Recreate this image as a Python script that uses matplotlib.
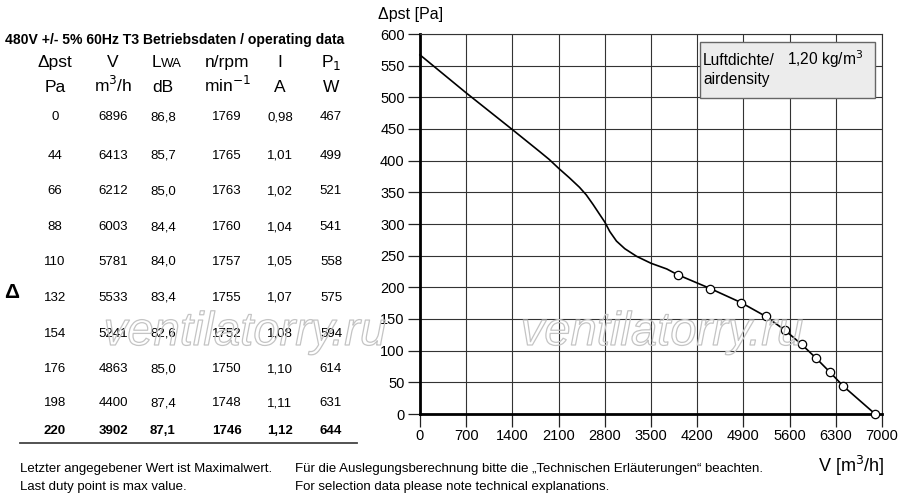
import matplotlib
matplotlib.use("Agg")
import matplotlib.pyplot as plt
import matplotlib.patheffects as pe
from matplotlib.patches import Rectangle
import numpy as np

plt.rcParams['font.family'] = ['Liberation Sans', 'DejaVu Sans']

# ---- data ----
dp = [0, 44, 66, 88, 110, 132, 154, 176, 198, 220]
flow = [6896, 6413, 6212, 6003, 5781, 5533, 5241, 4863, 4400, 3902]
lwa = ["86,8", "85,7", "85,0", "84,4", "84,0", "83,4", "82,6", "85,0", "87,4", "87,1"]
rpm = [1769, 1765, 1763, 1760, 1757, 1755, 1752, 1750, 1748, 1746]
amps = ["0,98", "1,01", "1,02", "1,04", "1,05", "1,07", "1,08", "1,10", "1,11", "1,12"]
power = [467, 499, 521, 541, 558, 575, 594, 614, 631, 644]

# curve section left of the duty points
curve_v = [0, 700, 1400, 1805, 1957, 2100, 2263, 2416, 2519, 2621, 2723, 2800,
           2876, 2977, 3103, 3281, 3500, 3739]
curve_p = [567, 507, 449, 415, 402, 388, 373, 358, 346, 331, 315, 303,
           288, 273, 261, 249, 238, 229]

xticks = [0, 700, 1400, 2100, 2800, 3500, 4200, 4900, 5600, 6300, 7000]
yticks = [0, 50, 100, 150, 200, 250, 300, 350, 400, 450, 500, 550, 600]

W, H = 900, 500
fig = plt.figure(figsize=(9, 5), dpi=100)

def fx(x):
    return x / W

def fy(y):
    return 1 - y / H

ax = fig.add_axes([fx(420), fy(414), fx(882) - fx(420), fy(34) - fy(414)])
ax.set_xlim(0, 7000)
ax.set_ylim(0, 600)
ax.set_xticks(xticks)
ax.set_yticks(yticks)
ax.tick_params(axis='both', direction='out', length=9, width=0.9, color='#222',
               labelsize=10.5, pad=2)
ax.grid(True, color='#333333', linewidth=0.8)
for s in ['top', 'right']:
    ax.spines[s].set_linewidth(0.8)
    ax.spines[s].set_color('#333333')
for s in ['left', 'bottom']:
    ax.spines[s].set_linewidth(2.0)
    ax.spines[s].set_color('black')

all_v = curve_v + flow[::-1]
all_p = curve_p + dp[::-1]
ax.plot(all_v, all_p, color='black', lw=1.2, zorder=3, clip_on=False,
        solid_joinstyle='round')
ax.plot(flow, dp, linestyle='none', marker='o', ms=6, mfc='white', mec='black',
        mew=0.9, zorder=4, clip_on=False)

# density box
fig.add_artist(Rectangle((fx(700), fy(98)), fx(875) - fx(700), fy(42) - fy(98),
                         transform=fig.transFigure, fc='#ececec', ec='#666666', lw=1.0,
                         zorder=5))
fig.text(fx(703), fy(65), "Luftdichte/", fontsize=11.2, ha='left', va='baseline', zorder=6)
fig.text(fx(787), fy(65), "1,20 kg/m$^3$", fontsize=11.2, ha='left', va='baseline', zorder=6)
fig.text(fx(703), fy(84), "airdensity", fontsize=11.2, ha='left', va='baseline', zorder=6)

fig.text(fx(378), fy(14), "Δpst [Pa]", fontsize=11.5, ha='left', va='center')
fig.text(fx(818), fy(466), "V [m$^3$/h]", fontsize=13, ha='left', va='center')

# ---- table ----
fig.text(fx(5), fy(40), "480V +/- 5% 60Hz T3 Betriebsdaten / operating data",
         fontsize=10.1, fontweight='bold', ha='left', va='center')
col_x = [55, 113, 163, 227, 280, 331]
head1 = ["Δpst", "V", None, "n/rpm", "I", "P$_1$"]
head2 = ["Pa", "m$^3$/h", "dB", "min$^{-1}$", "A", "W"]
for x, t in zip(col_x, head1):
    if t is not None:
        fig.text(fx(x), fy(67), t, fontsize=12.5, ha='center', va='baseline')
# L with small-caps WA
fig.text(fx(161), fy(67), "L", fontsize=12.5, ha='right', va='baseline')
fig.text(fx(161), fy(67), "WA", fontsize=9.5, ha='left', va='baseline')
for x, t in zip(col_x, head2):
    fig.text(fx(x), fy(92), t, fontsize=12.5, ha='center', va='baseline')

row_y = [117, 156, 191, 227, 262, 298, 334, 369, 403, 431]
for i, y in enumerate(row_y):
    vals = [str(dp[i]), str(flow[i]), lwa[i], str(rpm[i]), amps[i], str(power[i])]
    bold = (i == len(row_y) - 1)
    for x, t in zip(col_x, vals):
        fig.text(fx(x), fy(y), t, fontsize=9.5, ha='center', va='center',
                 fontweight='bold' if bold else 'normal')

fig.add_artist(plt.Line2D([fx(20), fx(357)], [fy(443), fy(443)], color='#444', lw=1.3))
fig.text(fx(12), fy(293), "Δ", fontsize=15, fontweight='bold', ha='center', va='center')

# footer
fig.text(fx(20), fy(469), "Letzter angegebener Wert ist Maximalwert.", fontsize=9.5, va='center')
fig.text(fx(20), fy(487), "Last duty point is max value.", fontsize=9.5, va='center')
fig.text(fx(295), fy(469), "Für die Auslegungsberechnung bitte die „Technischen Erläuterungen“ beachten.",
         fontsize=9.5, va='center')
fig.text(fx(295), fy(487), "For selection data please note technical explanations.",
         fontsize=9.5, va='center')

# watermark
for cx in [245, 662]:
    fig.text(fx(cx), fy(333), "ventilatorry.ru", fontsize=34, style='italic',
             ha='center', va='center', color=(1, 1, 1, 0),
             path_effects=[pe.withStroke(linewidth=0.9, foreground='#c4c4c4')], zorder=10)

fig.savefig("out.png", dpi=100)
